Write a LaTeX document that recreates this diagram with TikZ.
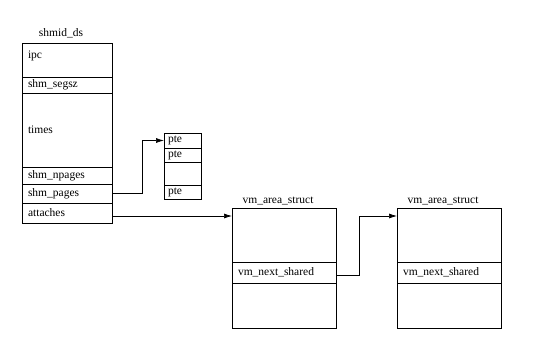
\documentclass[tikz,border=0pt]{standalone}
\usepackage{fontspec}
\setmainfont{Liberation Serif}
\usetikzlibrary{arrows.meta, positioning}

\begin{document}
\begin{tikzpicture}[
  x=1pt, y=-1pt,
  node distance=0pt,
  field/.style={rectangle, draw, line width=0.7pt, inner xsep=6pt, inner ysep=0pt,
                outer sep=0pt, align=left, font=\fontsize{11.5}{13}\selectfont},
  shm/.style={field, text width=78pt},
  vm/.style={field, text width=92pt},
  pte/.style={field, inner xsep=4pt, text width=29pt},
  title/.style={inner sep=0pt, font=\fontsize{11.5}{13}\selectfont},
  arrow/.style={-{Latex[length=8pt, width=5pt]}, line width=0.7pt},
]
\useasboundingbox (0,0) rectangle (539,351);

% shmid_ds
\node[shm, minimum height=34pt, text height=15pt, text depth=19pt, anchor=north west] (ipc) at (22,43) {ipc};
\node[shm, minimum height=16pt, below=of ipc]    (segsz)    {shm\_segsz};
\node[shm, minimum height=74pt, below=of segsz]  (times)    {times};
\node[shm, minimum height=17pt, below=of times]  (npages)   {shm\_npages};
\node[shm, minimum height=19pt, below=of npages] (pages)    {shm\_pages};
\node[shm, minimum height=20pt, below=of pages]  (attaches) {attaches};
\node[title, above=5pt of ipc, xshift=-6pt] (shmid) {shmid\_ds};

% page table
\node[pte, minimum height=15pt, anchor=north west] (pteA) at (164,133) {pte};
\node[pte, minimum height=14pt, below=of pteA] (pteB) {pte};
\node[pte, minimum height=23pt, below=of pteB] (pteC) {};
\node[pte, minimum height=14pt, below=of pteC] (pteD) {pte};

% first vm_area_struct
\node[vm, minimum height=54pt, anchor=north west] (vmAtop) at (232,208) {};
\node[vm, minimum height=21pt, below=of vmAtop]  (vmAnext) {vm\_next\_shared};
\node[vm, minimum height=45pt, below=of vmAnext] (vmAbot)  {};
\node[title, above=3pt of vmAtop, xshift=-6pt] (vmAname) {vm\_area\_struct};

% second vm_area_struct
\node[vm, minimum height=54pt, anchor=north west] (vmBtop) at (397,208) {};
\node[vm, minimum height=21pt, below=of vmBtop]  (vmBnext) {vm\_next\_shared};
\node[vm, minimum height=45pt, below=of vmBnext] (vmBbot)  {};
\node[title, above=3pt of vmBtop, xshift=-6pt] (vmBname) {vm\_area\_struct};

% pointers
\draw[arrow] (pages.east) -- ++(30,0) |- (pteA.west);
\draw[arrow] ([yshift=-3pt]attaches.east) -- ([yshift=-3pt]attaches.east -| vmAtop.west);
\draw[arrow] ([yshift=-3pt]vmAnext.east) -- ++(23,0) |- ([yshift=-8pt]vmBtop.north west);
\end{tikzpicture}
\end{document}
